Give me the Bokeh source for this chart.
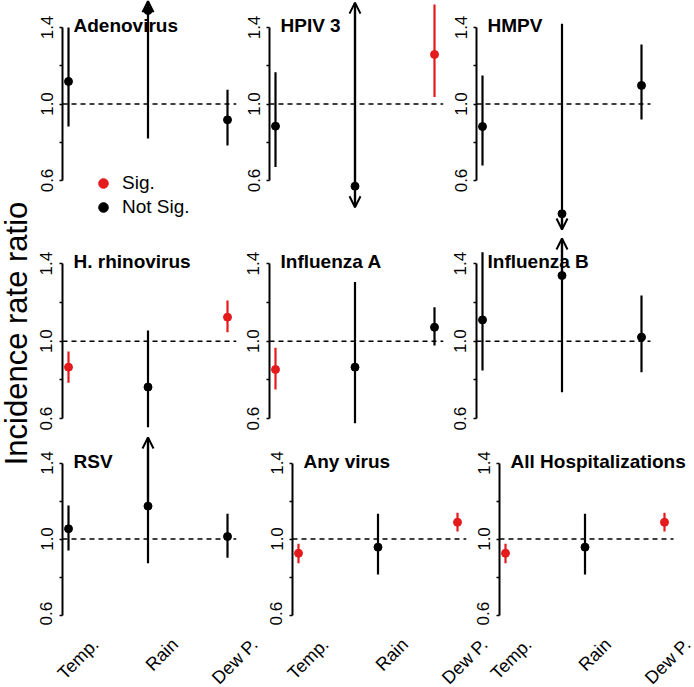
import math
import numpy as np
from bokeh.plotting import figure
from bokeh.models import (ColumnDataSource, Label, Arrow, OpenHead,
                          FixedTicker, Legend, LegendItem, Range1d)
from bokeh.core.properties import value
from bokeh.layouts import row, column
from bokeh.embed import file_html
from bokeh.resources import INLINE

# ---------------- data ----------------
panels = ["Adenovirus", "HPIV 3", "HMPV",
          "H. rhinovirus", "Influenza A", "Influenza B",
          "RSV", "Any virus", "All Hospitalizations"]
variables = ["Temp.", "Rain", "Dew P."]

irr = [[1.118, 1.489, 0.917], [0.884, 0.570, 1.259], [0.882, 0.426, 1.097],
       [0.866, 0.763, 1.124], [0.854, 0.866, 1.072], [1.110, 1.339, 1.021],
       [1.054, 1.173, 1.013], [0.925, 0.957, 1.088], [0.925, 0.957, 1.088]]
ci_low = [[0.882, 0.820, 0.783], [0.670, 0.460, 1.036], [0.678, 0.344, 0.919],
          [0.785, 0.556, 1.046], [0.751, 0.577, 0.978], [0.849, 0.737, 0.840],
          [0.939, 0.873, 0.901], [0.873, 0.813, 1.039], [0.873, 0.813, 1.039]]
ci_high = [[1.400, 1.540, 1.074], [1.166, 1.530, 1.520], [1.149, 1.419, 1.311],
           [0.947, 1.055, 1.210], [0.966, 1.305, 1.175], [1.459, 1.530, 1.236],
           [1.176, 1.534, 1.133], [0.975, 1.133, 1.138], [0.975, 1.133, 1.138]]
significant = [[False, False, False], [False, False, True], [False, False, False],
               [True, False, True], [True, False, False], [False, False, False],
               [False, False, False], [True, False, True], [True, False, True]]
# CI truncated at the plot edge (drawn as arrows)
arrow_up = [[False, True, False], [False, True, False], [False, False, False],
            [False, False, False], [False, False, False], [False, True, False],
            [False, True, False], [False, False, False], [False, False, False]]
arrow_down = [[False, False, False], [False, True, False], [False, True, False],
              [False, False, False], [False, False, False], [False, False, False],
              [False, False, False], [False, False, False], [False, False, False]]
reference_irr = 1.0
y_ticks = [0.6, 0.8, 1.0, 1.2, 1.4]
y_tick_labels = {0.6: "0.6", 0.8: "", 1.0: "1.0", 1.2: "", 1.4: "1.4"}
legend_labels = ["Sig.", "Not Sig."]

# ---------------- style / layout ----------------
FONT = "Liberation Sans"
RED = "#E41A1C"
BLACK = "#000000"
ROW_H = [233, 200, 192]
LABEL_ROW_H = 62
LABEL_ROW_EXTRA_W = 4
LABEL_X_OFFSET = [27, 27, 23]
Y_PPU = [191.25, 193.75, 190.0]
Y_ONE = [103.5, 107.7, 105.5]
LEFT_B = [[28, 28, 28], [28, 28, 28], [28, 51, 28]]
FRAME_W = [[174, 174, 210], [174, 174, 210], [174, 174, 187]]
RIGHT_B = [[5, 5, 8], [5, 5, 8], [5, 5, 8]]
X_PPU = 79.5
STRIP_W = 34
TOTAL_H = sum(ROW_H) + LABEL_ROW_H

x_start = 1 - 6 / X_PPU          # left edge of the plot region (axis)
x_dash_end = 3 + 9 / X_PPU       # right edge of the plot region


def make_panel(k, r, c):
    top = 1 + Y_ONE[r] / Y_PPU[r]
    bottom = top - ROW_H[r] / Y_PPU[r]
    w = LEFT_B[r][c] + FRAME_W[r][c] + RIGHT_B[r][c]
    p = figure(width=w, height=ROW_H[r],
               x_range=Range1d(x_start, x_start + FRAME_W[r][c] / X_PPU),
               y_range=Range1d(bottom, top),
               toolbar_location=None, output_backend="svg",
               x_axis_location=None,
               min_border_left=LEFT_B[r][c], min_border_right=RIGHT_B[r][c],
               min_border_top=0, min_border_bottom=0)
    p.outline_line_color = None
    p.grid.grid_line_color = None
    p.background_fill_color = "white"

    ax = p.yaxis[0]
    ax.ticker = FixedTicker(ticks=y_ticks, minor_ticks=[])
    ax.major_label_overrides = y_tick_labels
    ax.bounds = (0.6, 1.4)
    ax.axis_line_width = 2
    ax.axis_line_color = BLACK
    ax.major_tick_out = 3
    ax.major_tick_in = 0
    ax.major_tick_line_width = 1.5
    ax.minor_tick_line_color = None
    ax.major_label_orientation = "vertical"
    ax.major_label_standoff = 7
    ax.major_label_text_font = FONT
    ax.major_label_text_font_size = "17px"
    ax.major_label_text_color = BLACK

    # reference line IRR = 1 across the plot region
    p.segment(x0=[x_start], y0=[reference_irr], x1=[x_dash_end], y1=[reference_irr],
              line_dash="5 4", line_width=1.5, line_color=BLACK)

    xs = [i + 1 for i in range(len(variables))]
    cols = [RED if s else BLACK for s in significant[k]]
    src = ColumnDataSource(dict(x=xs, y=irr[k], lo=ci_low[k], hi=ci_high[k], color=cols))
    p.segment(x0="x", y0="lo", x1="x", y1="hi", line_color="color",
              line_width=2.2, source=src)
    p.scatter("x", "y", source=src, size=8, fill_color="color", line_color="color")

    for i in range(len(variables)):
        col = cols[i]
        if arrow_up[k][i]:
            tip = min(ci_high[k][i], top - 0.004)
            p.add_layout(Arrow(end=OpenHead(size=11, line_width=2, line_color=col),
                               x_start=xs[i], y_start=irr[k][i], x_end=xs[i], y_end=tip,
                               line_width=2.2, line_color=col))
        if arrow_down[k][i]:
            tip = max(ci_low[k][i], bottom + 0.004)
            p.add_layout(Arrow(end=OpenHead(size=11, line_width=2, line_color=col),
                               x_start=xs[i], y_start=irr[k][i], x_end=xs[i], y_end=tip,
                               line_width=2.2, line_color=col))

    p.add_layout(Label(x=1, y=1.4, x_offset=5, y_offset=2, text=panels[k],
                       text_font=FONT, text_font_style="bold", text_font_size="19px",
                       text_align="left", text_baseline="middle", text_color=BLACK))

    if k == 0:
        # legend keys only (no data positions)
        leg_src = ColumnDataSource(dict(x=np.full(2, np.nan), y=np.full(2, np.nan),
                                        color=[RED, BLACK]))
        r_leg = p.scatter("x", "y", source=leg_src, size=8,
                          fill_color="color", line_color="color")
        leg = Legend(items=[LegendItem(label=legend_labels[0], renderers=[r_leg], index=0),
                            LegendItem(label=legend_labels[1], renderers=[r_leg], index=1)],
                     location=(29, 14), orientation="vertical",
                     background_fill_alpha=0, border_line_color=None,
                     padding=0, margin=0, spacing=0,
                     glyph_width=24, glyph_height=24, label_height=24,
                     label_standoff=7, label_text_font=FONT,
                     label_text_font_size="19px", label_text_color=BLACK)
        p.add_layout(leg)
    return p


def make_label_row():
    r = 2
    widths = [LEFT_B[r][c] + FRAME_W[r][c] + RIGHT_B[r][c] for c in range(3)]
    total_w = sum(widths) + LABEL_ROW_EXTRA_W
    ranges = {}
    offset = 0
    for c in range(3):
        axis_px = offset + LEFT_B[r][c]
        s = x_start - axis_px / X_PPU
        ranges[f"c{c}"] = Range1d(s, s + total_w / X_PPU)
        offset += widths[c]
    p = figure(width=total_w, height=LABEL_ROW_H,
               x_range=ranges["c0"], y_range=Range1d(-LABEL_ROW_H, 0),
               toolbar_location=None, output_backend="svg",
               x_axis_location=None, y_axis_location=None, min_border=0)
    p.extra_x_ranges = {k: v for k, v in ranges.items() if k != "c0"}
    p.outline_line_color = None
    p.grid.grid_line_color = None
    for c in range(3):
        kw = {} if c == 0 else {"x_range_name": f"c{c}"}
        p.text(x=[i + 1 for i in range(len(variables))], y=[-16] * len(variables),
               text=variables, angle=math.pi / 4, x_offset=LABEL_X_OFFSET[c],
               text_align="right", text_baseline="middle",
               text_font=value(FONT), text_font_size=value("18px"),
               text_color=BLACK, **kw)
    return p


rows = []
for r in range(3):
    rows.append(row(*[make_panel(3 * r + c, r, c) for c in range(3)]))
rows.append(make_label_row())

strip = figure(width=STRIP_W, height=TOTAL_H, x_range=Range1d(0, STRIP_W),
               y_range=Range1d(-TOTAL_H, 0), toolbar_location=None, output_backend="svg",
               x_axis_location=None, y_axis_location=None, min_border=0)
strip.outline_line_color = None
strip.grid.grid_line_color = None
strip.add_layout(Label(x=16, y=-333, text="Incidence rate ratio",
                       angle=math.pi / 2, text_align="center", text_baseline="middle",
                       text_font=FONT, text_font_size="31px", text_color=BLACK))

layout = row(strip, column(*rows))

open("out.html", "w").write(file_html(layout, INLINE, title="Incidence rate ratio"))
